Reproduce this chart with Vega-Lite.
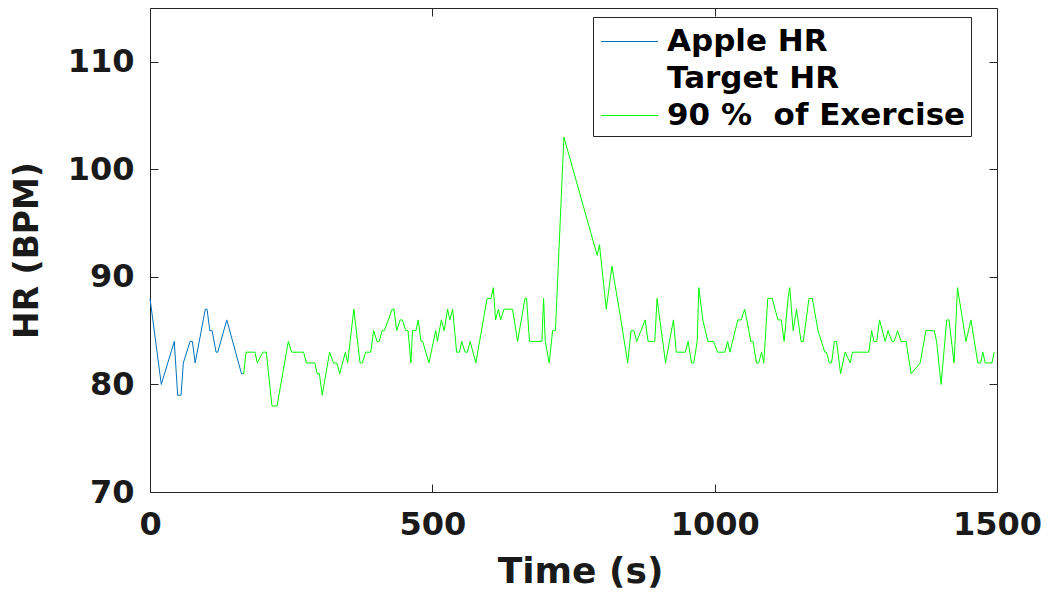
{
  "$schema": "https://vega.github.io/schema/vega-lite/v6.json",
  "width": 847,
  "height": 484,
  "autosize": {"type": "none"},
  "padding": {"left": 150, "top": 8, "right": 53, "bottom": 100},
  "background": "white",
  "config": {
    "view": {"stroke": "#262626", "strokeWidth": 1},
    "font": "DejaVu Sans",
    "axis": {
      "grid": false,
      "domain": false,
      "tickSize": -8,
      "tickColor": "#262626",
      "tickWidth": 1,
      "labelFont": "DejaVu Sans",
      "labelFontWeight": "bold",
      "labelFontSize": 32,
      "labelColor": "#1a1a1a",
      "titleFont": "DejaVu Sans",
      "titleFontWeight": "bold",
      "titleColor": "#1a1a1a"
    }
  },
  "data": {"values": [
    {"t":0,"hr":88,"s":"Apple HR"},{"t":20,"hr":80,"s":"Apple HR"},{"t":43,"hr":84,"s":"Apple HR"},{"t":49,"hr":79,"s":"Apple HR"},{"t":55,"hr":79,"s":"Apple HR"},{"t":59,"hr":82,"s":"Apple HR"},{"t":71,"hr":84,"s":"Apple HR"},{"t":75,"hr":84,"s":"Apple HR"},{"t":80,"hr":82,"s":"Apple HR"},{"t":98,"hr":87,"s":"Apple HR"},{"t":101,"hr":87,"s":"Apple HR"},{"t":106,"hr":85,"s":"Apple HR"},{"t":110,"hr":85,"s":"Apple HR"},{"t":117,"hr":83,"s":"Apple HR"},{"t":120,"hr":83,"s":"Apple HR"},{"t":136,"hr":86,"s":"Apple HR"},{"t":162,"hr":81,"s":"Apple HR"},{"t":166,"hr":81,"s":"Apple HR"},
    {"t":166,"hr":81,"s":"90 % \u00a0of Exercise"},{"t":170,"hr":83,"s":"90 % \u00a0of Exercise"},{"t":186,"hr":83,"s":"90 % \u00a0of Exercise"},{"t":190,"hr":82,"s":"90 % \u00a0of Exercise"},{"t":200,"hr":83,"s":"90 % \u00a0of Exercise"},{"t":206,"hr":83,"s":"90 % \u00a0of Exercise"},{"t":216,"hr":78,"s":"90 % \u00a0of Exercise"},{"t":225,"hr":78,"s":"90 % \u00a0of Exercise"},{"t":245,"hr":84,"s":"90 % \u00a0of Exercise"},{"t":251,"hr":83,"s":"90 % \u00a0of Exercise"},{"t":272,"hr":83,"s":"90 % \u00a0of Exercise"},{"t":277,"hr":82,"s":"90 % \u00a0of Exercise"},{"t":292,"hr":82,"s":"90 % \u00a0of Exercise"},{"t":296,"hr":81,"s":"90 % \u00a0of Exercise"},{"t":300,"hr":81,"s":"90 % \u00a0of Exercise"},{"t":305,"hr":79,"s":"90 % \u00a0of Exercise"},{"t":318,"hr":83,"s":"90 % \u00a0of Exercise"},{"t":325,"hr":82,"s":"90 % \u00a0of Exercise"},{"t":331,"hr":82,"s":"90 % \u00a0of Exercise"},{"t":336,"hr":81,"s":"90 % \u00a0of Exercise"},{"t":346,"hr":83,"s":"90 % \u00a0of Exercise"},{"t":350,"hr":82,"s":"90 % \u00a0of Exercise"},{"t":361,"hr":87,"s":"90 % \u00a0of Exercise"},{"t":372,"hr":82,"s":"90 % \u00a0of Exercise"},{"t":376,"hr":82,"s":"90 % \u00a0of Exercise"},{"t":382,"hr":83,"s":"90 % \u00a0of Exercise"},{"t":391,"hr":83,"s":"90 % \u00a0of Exercise"},{"t":396,"hr":85,"s":"90 % \u00a0of Exercise"},{"t":402,"hr":84,"s":"90 % \u00a0of Exercise"},{"t":406,"hr":84,"s":"90 % \u00a0of Exercise"},{"t":411,"hr":85,"s":"90 % \u00a0of Exercise"},{"t":415,"hr":85,"s":"90 % \u00a0of Exercise"},{"t":429,"hr":87,"s":"90 % \u00a0of Exercise"},{"t":432,"hr":87,"s":"90 % \u00a0of Exercise"},{"t":437,"hr":85,"s":"90 % \u00a0of Exercise"},{"t":443,"hr":86,"s":"90 % \u00a0of Exercise"},{"t":447,"hr":86,"s":"90 % \u00a0of Exercise"},{"t":453,"hr":85,"s":"90 % \u00a0of Exercise"},{"t":457,"hr":85,"s":"90 % \u00a0of Exercise"},{"t":462,"hr":82,"s":"90 % \u00a0of Exercise"},{"t":465,"hr":85,"s":"90 % \u00a0of Exercise"},{"t":471,"hr":85,"s":"90 % \u00a0of Exercise"},{"t":475,"hr":86,"s":"90 % \u00a0of Exercise"},{"t":480,"hr":84,"s":"90 % \u00a0of Exercise"},{"t":483,"hr":84,"s":"90 % \u00a0of Exercise"},{"t":494,"hr":82,"s":"90 % \u00a0of Exercise"},{"t":506,"hr":85,"s":"90 % \u00a0of Exercise"},{"t":509,"hr":84,"s":"90 % \u00a0of Exercise"},{"t":516,"hr":86,"s":"90 % \u00a0of Exercise"},{"t":521,"hr":85,"s":"90 % \u00a0of Exercise"},{"t":527,"hr":87,"s":"90 % \u00a0of Exercise"},{"t":531,"hr":86,"s":"90 % \u00a0of Exercise"},{"t":536,"hr":87,"s":"90 % \u00a0of Exercise"},{"t":543,"hr":83,"s":"90 % \u00a0of Exercise"},{"t":548,"hr":83,"s":"90 % \u00a0of Exercise"},{"t":552,"hr":84,"s":"90 % \u00a0of Exercise"},{"t":558,"hr":83,"s":"90 % \u00a0of Exercise"},{"t":562,"hr":83,"s":"90 % \u00a0of Exercise"},{"t":567,"hr":84,"s":"90 % \u00a0of Exercise"},{"t":577,"hr":82,"s":"90 % \u00a0of Exercise"},{"t":597,"hr":88,"s":"90 % \u00a0of Exercise"},{"t":604,"hr":88,"s":"90 % \u00a0of Exercise"},{"t":608,"hr":89,"s":"90 % \u00a0of Exercise"},{"t":612,"hr":86,"s":"90 % \u00a0of Exercise"},{"t":617,"hr":87,"s":"90 % \u00a0of Exercise"},{"t":621,"hr":86,"s":"90 % \u00a0of Exercise"},{"t":627,"hr":87,"s":"90 % \u00a0of Exercise"},{"t":642,"hr":87,"s":"90 % \u00a0of Exercise"},{"t":651,"hr":84,"s":"90 % \u00a0of Exercise"},{"t":664,"hr":88,"s":"90 % \u00a0of Exercise"},{"t":667,"hr":88,"s":"90 % \u00a0of Exercise"},{"t":672,"hr":84,"s":"90 % \u00a0of Exercise"},{"t":694,"hr":84,"s":"90 % \u00a0of Exercise"},{"t":697,"hr":88,"s":"90 % \u00a0of Exercise"},{"t":700,"hr":84,"s":"90 % \u00a0of Exercise"},{"t":707,"hr":82,"s":"90 % \u00a0of Exercise"},{"t":713,"hr":85,"s":"90 % \u00a0of Exercise"},{"t":718,"hr":85,"s":"90 % \u00a0of Exercise"},{"t":733,"hr":103,"s":"90 % \u00a0of Exercise"},{"t":792,"hr":92,"s":"90 % \u00a0of Exercise"},{"t":796,"hr":93,"s":"90 % \u00a0of Exercise"},{"t":808,"hr":87,"s":"90 % \u00a0of Exercise"},{"t":818,"hr":91,"s":"90 % \u00a0of Exercise"},{"t":834,"hr":86,"s":"90 % \u00a0of Exercise"},{"t":846,"hr":82,"s":"90 % \u00a0of Exercise"},{"t":852,"hr":85,"s":"90 % \u00a0of Exercise"},{"t":857,"hr":85,"s":"90 % \u00a0of Exercise"},{"t":862,"hr":84,"s":"90 % \u00a0of Exercise"},{"t":877,"hr":86,"s":"90 % \u00a0of Exercise"},{"t":882,"hr":84,"s":"90 % \u00a0of Exercise"},{"t":894,"hr":84,"s":"90 % \u00a0of Exercise"},{"t":898,"hr":88,"s":"90 % \u00a0of Exercise"},{"t":913,"hr":82,"s":"90 % \u00a0of Exercise"},{"t":920,"hr":84,"s":"90 % \u00a0of Exercise"},{"t":927,"hr":86,"s":"90 % \u00a0of Exercise"},{"t":932,"hr":83,"s":"90 % \u00a0of Exercise"},{"t":948,"hr":83,"s":"90 % \u00a0of Exercise"},{"t":953,"hr":84,"s":"90 % \u00a0of Exercise"},{"t":959,"hr":82,"s":"90 % \u00a0of Exercise"},{"t":963,"hr":82,"s":"90 % \u00a0of Exercise"},{"t":969,"hr":84,"s":"90 % \u00a0of Exercise"},{"t":972,"hr":89,"s":"90 % \u00a0of Exercise"},{"t":979,"hr":86,"s":"90 % \u00a0of Exercise"},{"t":988,"hr":84,"s":"90 % \u00a0of Exercise"},{"t":998,"hr":84,"s":"90 % \u00a0of Exercise"},{"t":1005,"hr":83,"s":"90 % \u00a0of Exercise"},{"t":1018,"hr":83,"s":"90 % \u00a0of Exercise"},{"t":1023,"hr":84,"s":"90 % \u00a0of Exercise"},{"t":1027,"hr":83,"s":"90 % \u00a0of Exercise"},{"t":1041,"hr":86,"s":"90 % \u00a0of Exercise"},{"t":1047,"hr":86,"s":"90 % \u00a0of Exercise"},{"t":1053,"hr":87,"s":"90 % \u00a0of Exercise"},{"t":1057,"hr":86,"s":"90 % \u00a0of Exercise"},{"t":1064,"hr":84,"s":"90 % \u00a0of Exercise"},{"t":1068,"hr":84,"s":"90 % \u00a0of Exercise"},{"t":1074,"hr":82,"s":"90 % \u00a0of Exercise"},{"t":1078,"hr":82,"s":"90 % \u00a0of Exercise"},{"t":1083,"hr":83,"s":"90 % \u00a0of Exercise"},{"t":1087,"hr":82,"s":"90 % \u00a0of Exercise"},{"t":1094,"hr":88,"s":"90 % \u00a0of Exercise"},{"t":1102,"hr":88,"s":"90 % \u00a0of Exercise"},{"t":1112,"hr":86,"s":"90 % \u00a0of Exercise"},{"t":1118,"hr":86,"s":"90 % \u00a0of Exercise"},{"t":1123,"hr":84,"s":"90 % \u00a0of Exercise"},{"t":1130,"hr":88,"s":"90 % \u00a0of Exercise"},{"t":1133,"hr":89,"s":"90 % \u00a0of Exercise"},{"t":1139,"hr":85,"s":"90 % \u00a0of Exercise"},{"t":1145,"hr":87,"s":"90 % \u00a0of Exercise"},{"t":1153,"hr":84,"s":"90 % \u00a0of Exercise"},{"t":1157,"hr":84,"s":"90 % \u00a0of Exercise"},{"t":1167,"hr":88,"s":"90 % \u00a0of Exercise"},{"t":1173,"hr":88,"s":"90 % \u00a0of Exercise"},{"t":1183,"hr":85,"s":"90 % \u00a0of Exercise"},{"t":1195,"hr":83,"s":"90 % \u00a0of Exercise"},{"t":1198,"hr":83,"s":"90 % \u00a0of Exercise"},{"t":1203,"hr":82,"s":"90 % \u00a0of Exercise"},{"t":1207,"hr":82,"s":"90 % \u00a0of Exercise"},{"t":1212,"hr":84,"s":"90 % \u00a0of Exercise"},{"t":1216,"hr":84,"s":"90 % \u00a0of Exercise"},{"t":1223,"hr":81,"s":"90 % \u00a0of Exercise"},{"t":1231,"hr":83,"s":"90 % \u00a0of Exercise"},{"t":1240,"hr":82,"s":"90 % \u00a0of Exercise"},{"t":1244,"hr":83,"s":"90 % \u00a0of Exercise"},{"t":1273,"hr":83,"s":"90 % \u00a0of Exercise"},{"t":1278,"hr":85,"s":"90 % \u00a0of Exercise"},{"t":1282,"hr":84,"s":"90 % \u00a0of Exercise"},{"t":1287,"hr":84,"s":"90 % \u00a0of Exercise"},{"t":1292,"hr":86,"s":"90 % \u00a0of Exercise"},{"t":1302,"hr":84,"s":"90 % \u00a0of Exercise"},{"t":1307,"hr":85,"s":"90 % \u00a0of Exercise"},{"t":1314,"hr":84,"s":"90 % \u00a0of Exercise"},{"t":1318,"hr":84,"s":"90 % \u00a0of Exercise"},{"t":1324,"hr":85,"s":"90 % \u00a0of Exercise"},{"t":1330,"hr":84,"s":"90 % \u00a0of Exercise"},{"t":1339,"hr":84,"s":"90 % \u00a0of Exercise"},{"t":1348,"hr":81,"s":"90 % \u00a0of Exercise"},{"t":1364,"hr":82,"s":"90 % \u00a0of Exercise"},{"t":1374,"hr":85,"s":"90 % \u00a0of Exercise"},{"t":1389,"hr":85,"s":"90 % \u00a0of Exercise"},{"t":1393,"hr":84,"s":"90 % \u00a0of Exercise"},{"t":1401,"hr":80,"s":"90 % \u00a0of Exercise"},{"t":1411,"hr":86,"s":"90 % \u00a0of Exercise"},{"t":1415,"hr":86,"s":"90 % \u00a0of Exercise"},{"t":1424,"hr":82,"s":"90 % \u00a0of Exercise"},{"t":1430,"hr":89,"s":"90 % \u00a0of Exercise"},{"t":1436,"hr":87,"s":"90 % \u00a0of Exercise"},{"t":1445,"hr":84,"s":"90 % \u00a0of Exercise"},{"t":1454,"hr":86,"s":"90 % \u00a0of Exercise"},{"t":1466,"hr":82,"s":"90 % \u00a0of Exercise"},{"t":1471,"hr":82,"s":"90 % \u00a0of Exercise"},{"t":1475,"hr":83,"s":"90 % \u00a0of Exercise"},{"t":1479,"hr":82,"s":"90 % \u00a0of Exercise"},{"t":1491,"hr":82,"s":"90 % \u00a0of Exercise"},{"t":1495,"hr":83,"s":"90 % \u00a0of Exercise"}
  ]},
  "layer": [
    {
      "mark": {"type": "line", "strokeWidth": 1, "interpolate": "linear"},
      "encoding": {
        "x": {
          "field": "t", "type": "quantitative",
          "scale": {"domain": [0, 1500], "nice": false, "zero": false},
          "axis": {
            "orient": "bottom", "values": [0, 500, 1000, 1500], "format": "d",
            "labelPadding": 25, "labelFlush": false,
            "title": "Time (s)", "titleFontSize": 36,
            "titleX": 430, "titleY": 90, "titleAlign": "center", "titleBaseline": "alphabetic"
          }
        },
        "y": {
          "field": "hr", "type": "quantitative",
          "scale": {"domain": [70, 115], "nice": false, "zero": false},
          "axis": {
            "orient": "left", "values": [70, 80, 90, 100, 110], "format": "d",
            "labelPadding": 24, "labelFlush": false,
            "title": "HR (BPM)", "titleFontSize": 33,
            "titleAngle": -90, "titleX": -113, "titleY": 242,
            "titleAlign": "center", "titleBaseline": "alphabetic"
          }
        },
        "color": {
          "field": "s", "type": "nominal",
          "scale": {
            "domain": ["Apple HR", "Target HR", "90 % \u00a0of Exercise"],
            "range": ["#0072BD", "#ffffff", "#00FF00"]
          },
          "legend": {
            "title": null,
            "orient": "none",
            "legendX": 443,
            "legendY": 9,
            "direction": "vertical",
            "symbolType": "M-1.5,0L1.5,0",
            "symbolSize": 1444,
            "symbolStrokeWidth": 1,
            "symbolOffset": 12,
            "labelOffset": 18,
            "labelFont": "DejaVu Sans",
            "labelFontWeight": "bold",
            "labelFontSize": 31,
            "labelColor": "#000000",
            "labelLimit": 500,
            "padding": 5,
            "rowPadding": 2,
            "strokeColor": "#262626",
            "fillColor": "#ffffff"
          }
        }
      }
    },
    {
      "mark": {"type": "point", "opacity": 0},
      "encoding": {
        "x": {
          "field": "t", "type": "quantitative",
          "axis": {"orient": "top", "values": [0, 500, 1000, 1500], "labels": false, "title": null}
        },
        "y": {
          "field": "hr", "type": "quantitative",
          "axis": {"orient": "right", "values": [70, 80, 90, 100, 110], "labels": false, "title": null}
        }
      }
    }
  ],
  "resolve": {"axis": {"x": "independent", "y": "independent"}}
}
